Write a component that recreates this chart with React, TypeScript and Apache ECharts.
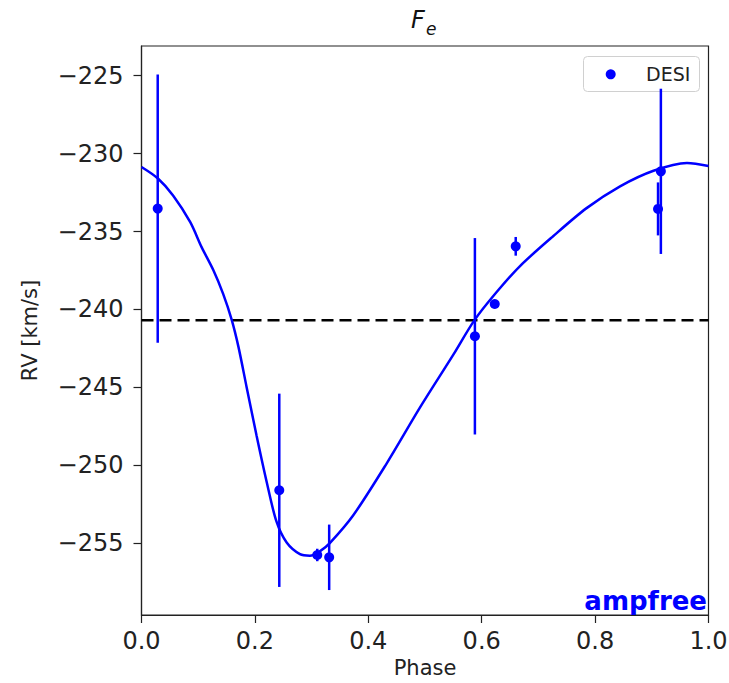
import React, { useEffect, useRef } from "react";
import * as echarts from "echarts";

// Observed data (phase, RV, error)
const phases = [0.0286, 0.243, 0.31, 0.331, 0.588, 0.623, 0.66, 0.916, 0.911];
const rvs = [-233.53, -251.6, -255.75, -255.9, -241.72, -239.65, -235.95, -231.14, -233.55];
const errs = [8.6, 6.2, 0.4, 2.1, 6.3, 0.2, 0.6, 5.3, 1.7];

// Fitted curve
const curvePhase = [0.0, 0.029, 0.056, 0.086, 0.106, 0.127, 0.144, 0.159, 0.171, 0.1855, 0.203, 0.221, 0.238, 0.256, 0.2795, 0.297, 0.315, 0.3325, 0.3735, 0.432, 0.491, 0.55, 0.587, 0.626, 0.668, 0.726, 0.785, 0.844, 0.903, 0.962, 1.0];
const curveRV = [-230.86, -231.6, -232.7, -234.4, -236.0, -237.5, -239.0, -240.65, -242.4, -245.0, -248.1, -251.1, -253.6, -254.95, -255.7, -255.8, -255.5, -254.97, -253.2, -249.9, -246.3, -242.9, -240.7, -238.9, -237.2, -235.3, -233.5, -232.1, -231.1, -230.6, -230.8];

const systemicRV = -240.7;
const yTicks = [-255, -250, -245, -240, -235, -230, -225];

const BLUE = "#0000ff";
const FONT = "DejaVu Sans";

export default function App() {
  const ref = useRef<HTMLDivElement>(null);
  useEffect(() => {
    if (!ref.current) return;
    const chart = echarts.init(ref.current, null, { renderer: "svg" });
    const points = phases.map((p, i) => [p, rvs[i]]);
    const bars = phases.map((p, i) => [p, rvs[i], errs[i]]);
    const curve = curvePhase.map((p, i) => [p, curveRV[i]]);
    chart.setOption({
      animation: false,
      textStyle: { fontFamily: FONT },
      grid: {
        left: 141.5,
        right: 20.5,
        top: 46,
        bottom: 68,
        containLabel: false,
        outerBoundsMode: "none",
        show: true,
        borderColor: "#222",
        borderWidth: 1.2,
        backgroundColor: "#fff",
      },
      xAxis: {
        type: "value",
        min: 0,
        max: 1,
        interval: 0.2,
        name: "Phase",
        nameLocation: "middle",
        nameGap: 42,
        nameTextStyle: { fontSize: 21, color: "#222", fontFamily: FONT },
        axisLine: { show: true, lineStyle: { color: "#222", width: 1.2 } },
        axisTick: { show: true, length: 8, lineStyle: { color: "#222", width: 1.2 } },
        axisLabel: {
          fontSize: 24,
          color: "#222",
          margin: 14,
          fontFamily: FONT,
          formatter: (v: number) => v.toFixed(1),
        },
        splitLine: { show: false },
      },
      yAxis: {
        type: "value",
        min: -259.6,
        max: -223.1,
        name: "RV [km/s]",
        nameLocation: "middle",
        nameRotate: 90,
        nameGap: 101,
        nameTextStyle: { fontSize: 21, color: "#222", fontFamily: FONT },
        axisLine: { show: true, lineStyle: { color: "#222", width: 1.2 } },
        axisTick: { show: true, length: 8, customValues: yTicks, lineStyle: { color: "#222", width: 1.2 } },
        axisLabel: {
          fontSize: 24,
          color: "#222",
          margin: 18,
          fontFamily: FONT,
          customValues: yTicks,
          formatter: (v: number) => String(v).replace("-", "\u2212"),
        },
        splitLine: { show: false },
      },
      series: [
        {
          name: "systemic",
          type: "line",
          data: [[0, systemicRV], [1, systemicRV]],
          showSymbol: false,
          symbol: "none",
          lineStyle: { color: "#000", width: 2.5, type: [12, 6] },
          z: 2,
        },
        {
          name: "fit",
          type: "line",
          data: curve,
          smooth: 0.3,
          showSymbol: false,
          symbol: "none",
          lineStyle: { color: BLUE, width: 2.5 },
          z: 3,
        },
        {
          name: "errors",
          type: "custom",
          data: bars,
          encode: { x: 0, y: 1 },
          renderItem: (params: any, api: any) => {
            const x = api.value(0);
            const y = api.value(1);
            const e = api.value(2);
            const p1 = api.coord([x, y + e]);
            const p2 = api.coord([x, y - e]);
            return {
              type: "line",
              shape: { x1: p1[0], y1: p1[1], x2: p2[0], y2: p2[1] },
              style: { stroke: BLUE, lineWidth: 2.5 },
            };
          },
          z: 4,
        },
        {
          name: "DESI",
          type: "scatter",
          data: points,
          symbol: "circle",
          symbolSize: 10,
          itemStyle: { color: BLUE, opacity: 1 },
          z: 5,
        },
      ],
      graphic: [
        {
          type: "text",
          left: 411,
          top: 8,
          style: { text: "F", fontSize: 24, fontStyle: "italic", fontFamily: FONT, fill: "#111" },
        },
        {
          type: "text",
          left: 426,
          top: 20,
          style: { text: "e", fontSize: 17, fontStyle: "italic", fontFamily: FONT, fill: "#111" },
        },
        {
          type: "group",
          z: 100,
          children: [
            {
              type: "rect",
              shape: { x: 583.5, y: 56.5, width: 116, height: 35, r: 4 },
              style: { fill: "rgba(255,255,255,0.8)", stroke: "#d0d0d0", lineWidth: 1 },
            },
            {
              type: "circle",
              shape: { cx: 610.7, cy: 74.3, r: 5 },
              style: { fill: BLUE },
            },
            {
              type: "text",
              x: 646,
              y: 74.3,
              style: {
                text: "DESI",
                fontSize: 19,
                fontFamily: FONT,
                fill: "#222",
                align: "left",
                verticalAlign: "middle",
              },
            },
          ],
        },
        {
          type: "text",
          right: 22,
          top: 588,
          style: { text: "ampfree", fontSize: 26, fontWeight: "bold", fontFamily: FONT, fill: BLUE },
        },
      ],
    });
    return () => chart.dispose();
  }, []);
  return (
    <div
      ref={ref}
      style={{ position: "absolute", left: 0, top: 0, width: 729, height: 683, background: "#fff" }}
    />
  );
}
